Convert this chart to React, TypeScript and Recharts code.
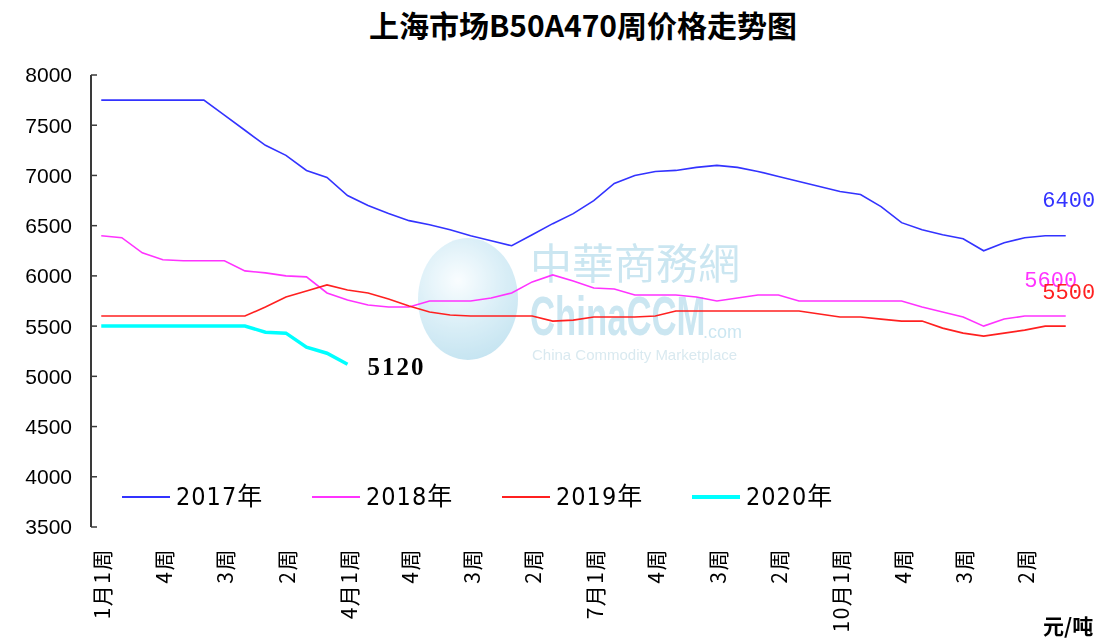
import { LineChart, Line, XAxis, YAxis } from "recharts"

// weekly index 0..47 (4 weeks per month)
const weeks = Array.from({ length: 48 }, (_, i) => i)
const weekBounds = Array.from({ length: 49 }, (_, i) => i - 0.5)
const labelWeeks = [0, 3, 6, 9, 12, 15, 18, 21, 24, 27, 30, 33, 36, 39, 42, 45]
const labelText = [
  "1月1周", "4周", "3周", "2周",
  "4月1周", "4周", "3周", "2周",
  "7月1周", "4周", "3周", "2周",
  "10月1周", "4周", "3周", "2周",
]
const yTicks = [3500, 4000, 4500, 5000, 5500, 6000, 6500, 7000, 7500, 8000]

const price2017 = [
  7750, 7750, 7750, 7750, 7750, 7750, 7600, 7450, 7300, 7200, 7050, 6980,
  6800, 6700, 6620, 6550, 6510, 6460, 6400, 6350, 6300, 6410, 6520, 6620,
  6750, 6920, 7000, 7040, 7050, 7080, 7100, 7080, 7040, 6990, 6940, 6890,
  6840, 6810, 6690, 6530, 6460, 6410, 6370, 6250, 6330, 6380, 6400, 6400,
]
const price2018 = [
  6400, 6380, 6230, 6160, 6150, 6150, 6150, 6050, 6030, 6000, 5990, 5830,
  5760, 5710, 5690, 5690, 5750, 5750, 5750, 5780, 5830, 5940, 6010, 5950,
  5880, 5870, 5810, 5810, 5810, 5790, 5750, 5780, 5810, 5810, 5750, 5750,
  5750, 5750, 5750, 5750, 5690, 5640, 5590, 5500, 5570, 5600, 5600, 5600,
]
const price2019 = [
  5600, 5600, 5600, 5600, 5600, 5600, 5600, 5600, 5690, 5790, 5850, 5910,
  5860, 5830, 5770, 5700, 5640, 5610, 5600, 5600, 5600, 5600, 5550, 5560,
  5590, 5590, 5590, 5600, 5650, 5650, 5650, 5650, 5650, 5650, 5650, 5620,
  5590, 5590, 5570, 5550, 5550, 5480, 5430, 5400, 5430, 5460, 5500, 5500,
]
const price2020 = [5500, 5500, 5500, 5500, 5500, 5500, 5500, 5500, 5440, 5430, 5290, 5230, 5120]

const data = weeks.map((w) => ({
  week: w,
  y2017: price2017[w],
  y2018: price2018[w],
  y2019: price2019[w],
  y2020: w < price2020.length ? price2020[w] : null,
}))

const narrow = '"Liberation Sans Narrow", "DejaVu Sans Condensed", "Liberation Sans", "Noto Sans CJK SC", sans-serif'
const sans = '"Liberation Sans", Arial, sans-serif'
const cjk = '"Noto Sans CJK SC", "Liberation Sans", sans-serif'
const mono = '"Liberation Mono", "DejaVu Sans Mono", monospace'

const series = [
  { key: "y2017", name: "2017年", color: "#3333ff", width: 1.6, last: 47, dx: 3, dy: -34, anchor: "middle", font: mono, bold: false, textColor: "#3333ff" },
  { key: "y2018", name: "2018年", color: "#ff33ff", width: 1.6, last: 47, dx: -15, dy: -35, anchor: "middle", font: mono, bold: false, textColor: "#ff33ff" },
  { key: "y2019", name: "2019年", color: "#ff2020", width: 1.6, last: 47, dx: 3, dy: -33, anchor: "middle", font: mono, bold: false, textColor: "#ff2020" },
  { key: "y2020", name: "2020年", color: "#00ffff", width: 3.5, last: 12, dx: 20, dy: 2, anchor: "start", font: '"Liberation Serif", serif', bold: true, textColor: "#000" },
]

function WeekTick({ x, y, payload }: any) {
  const i = labelWeeks.indexOf(payload.value)
  const ty = y + 21
  return (
    <text
      x={x}
      y={ty}
      transform={`rotate(-90 ${x} ${ty})`}
      textAnchor="end"
      dominantBaseline="central"
      fontSize={21}
      letterSpacing={1.5}
      fontFamily={cjk}
      fill="#000"
    >
      {labelText[i]}
    </text>
  )
}

function endLabel(s: (typeof series)[number]) {
  return (props: any) => {
    if (props.index !== s.last) return <g />
    return (
      <text
        x={props.x + s.dx}
        y={props.y + s.dy}
        textAnchor={s.anchor as any}
        dominantBaseline="central"
        fontSize={s.bold ? 25 : 22}
        fontWeight={s.bold ? "bold" : "normal"}
        fontFamily={s.font}
        letterSpacing={s.bold ? 2 : 0}
        fill={s.textColor}
      >
        {props.value}
      </text>
    )
  }
}

function Watermark() {
  const wm = "#a9d6e8"
  return (
    <div style={{ position: "absolute", left: 0, top: 0, opacity: 0.6 }}>
      <div
        style={{
          position: "absolute", left: 418, top: 238, width: 100, height: 122, borderRadius: "50%",
          background: "radial-gradient(circle at 40% 35%, #f6fcff 0%, #c2e4f2 45%, #8ecae3 100%)",
        }}
      />
      <div style={{ position: "absolute", left: 530, top: 236, fontSize: 42, lineHeight: "50px", color: wm, fontFamily: '"Noto Sans CJK TC", sans-serif', whiteSpace: "nowrap" }}>
        中華商務網
      </div>
      <div
        style={{
          position: "absolute", left: 530, top: 286, fontSize: 56, lineHeight: "60px", fontWeight: "bold", color: wm,
          fontFamily: sans, whiteSpace: "nowrap", transform: "scaleX(0.62)", transformOrigin: "left top",
        }}
      >
        ChinaCCM
      </div>
      <div style={{ position: "absolute", left: 703, top: 322, fontSize: 18, lineHeight: "20px", color: wm, fontFamily: sans }}>.com</div>
      <div style={{ position: "absolute", left: 532, top: 346, fontSize: 15, lineHeight: "18px", color: "#c0dbe6", fontFamily: sans, whiteSpace: "nowrap" }}>
        China Commodity Marketplace
      </div>
    </div>
  )
}

export default function App() {
  return (
    <div style={{ position: "absolute", left: 0, top: 0, width: 1113, height: 640, background: "#fff", overflow: "hidden" }}>
      <Watermark />
      <div
        style={{
          position: "absolute", left: 583, top: 8, transform: "translateX(-50%)", whiteSpace: "nowrap",
          fontSize: 30, lineHeight: "32px", fontWeight: "bold", fontFamily: cjk, color: "#000",
        }}
      >
        上海市场B50A470周价格走势图
      </div>
      <div style={{ position: "absolute", left: 0, top: 0 }}>
        <LineChart width={1113} height={640} data={data} margin={{ top: 75, right: 37, bottom: 0, left: 31 }}>
          <XAxis
            xAxisId="grid"
            dataKey="week"
            type="number"
            domain={[-0.5, 47.5]}
            ticks={weekBounds}
            interval={0}
            height={0}
            tick={false}
            tickSize={-6}
            axisLine={{ stroke: "#3a3a3a", strokeWidth: 2 }}
            tickLine={{ stroke: "#3a3a3a", strokeWidth: 1.5 }}
          />
          <XAxis
            xAxisId="labels"
            dataKey="week"
            type="number"
            domain={[-0.5, 47.5]}
            ticks={labelWeeks}
            interval={0}
            height={113}
            axisLine={false}
            tickLine={false}
            tickSize={0}
            tickMargin={0}
            tick={<WeekTick />}
          />
          <YAxis
            type="number"
            domain={[3500, 8000]}
            ticks={yTicks}
            interval={0}
            width={60}
            tickSize={-6}
            tickMargin={25}
            axisLine={{ stroke: "#3a3a3a", strokeWidth: 2 }}
            tickLine={{ stroke: "#3a3a3a", strokeWidth: 1.5 }}
            tick={{ fontSize: 21, fill: "#000", fontFamily: sans }}
          />
          {series.map((s) => (
            <Line
              key={s.key}
              xAxisId="grid"
              dataKey={s.key}
              name={s.name}
              type="linear"
              stroke={s.color}
              strokeWidth={s.width}
              dot={false}
              activeDot={false}
              connectNulls={false}
              isAnimationActive={false}
              label={endLabel(s)}
            />
          ))}
        </LineChart>
      </div>
      {series.map((s, i) => (
        <div key={s.key} style={{ position: "absolute", left: 122 + i * 190, top: 482, height: 30, display: "flex", alignItems: "center" }}>
          <div style={{ width: 48, height: 0, borderTop: `${s.width > 2 ? 4 : 2}px solid ${s.color}` }} />
          <div style={{ marginLeft: 6, fontSize: 25, lineHeight: "30px", fontFamily: narrow, letterSpacing: 1, color: "#000" }}>{s.name}</div>
        </div>
      ))}
      <div style={{ position: "absolute", left: 1043, top: 613, fontSize: 21, lineHeight: "24px", fontWeight: "bold", fontFamily: cjk, color: "#000", whiteSpace: "nowrap" }}>
        元/吨
      </div>
    </div>
  )
}
